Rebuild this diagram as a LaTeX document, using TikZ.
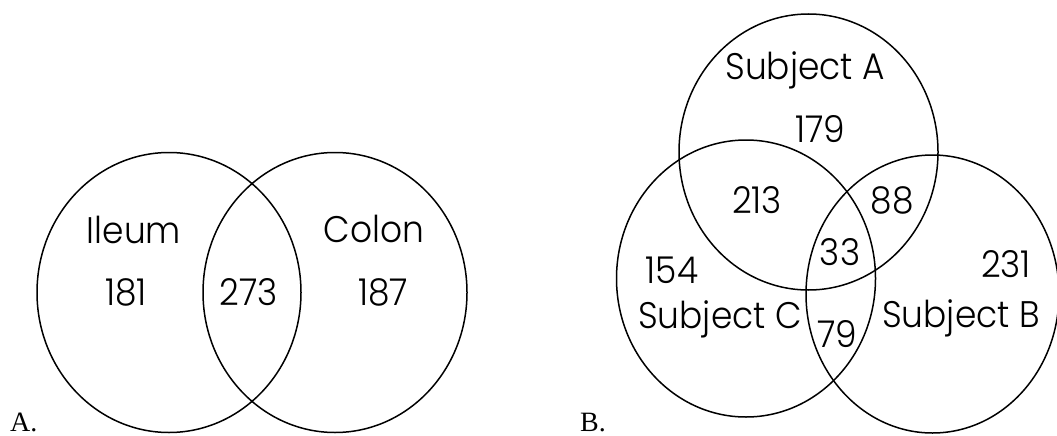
\documentclass[tikz,border=0pt]{standalone}
\usepackage{fontspec}
\setmainfont{Liberation Serif}
\newfontfamily\labelfont{Poppins Light}[FakeStretch=0.93]
\begin{document}
\begin{tikzpicture}[x=1pt,y=-1pt,
  set/.style={draw,line width=1.5pt},
  lab/.style={font=\labelfont\fontsize{37}{40}\selectfont,inner sep=0pt,anchor=base},
  panel/.style={font=\fontsize{28}{30}\selectfont,inner sep=0pt,anchor=base west}]
\useasboundingbox (0,0) rectangle (1057,436);

% Panel A: two-set diagram
\draw[set] (169,292.5) ellipse [x radius=132pt, y radius=140pt];
\draw[set] (335,292.5) ellipse [x radius=132pt, y radius=140pt];
\node[lab] (ileum) at (134,243) {Ileum};
\node[lab] (colon) at (374,242) {Colon};
\node[lab] (nIleum) at (126,305) {181};
\node[lab] (nBoth) at (249,305) {273};
\node[lab] (nColon) at (383,305) {187};
\node[panel] (pa) at (10,431) {A.};

% Panel B: three-set diagram
\draw[set] (808.5,152) ellipse [x radius=129.5pt, y radius=138pt];
\draw[set] (746,278.5) ellipse [x radius=129.5pt, y radius=138.5pt];
\draw[set] (932.5,294) ellipse [x radius=126.5pt, y radius=139pt];
\node[lab] (subA) at (805,79) {Subject A};
\node[lab] (subB) at (961,327) {Subject B};
\node[lab] (subC) at (720,328) {Subject C};
\node[lab] (nA) at (820,142) {179};
\node[lab] (nAC) at (757,213) {213};
\node[lab] (nAB) at (892,213) {88};
\node[lab] (nABC) at (840,265) {33};
\node[lab] (nC) at (672,283) {154};
\node[lab] (nB) at (1006,277) {231};
\node[lab] (nBC) at (837,347) {79};
\node[panel] (pb) at (580,431) {B.};
\end{tikzpicture}
\end{document}
